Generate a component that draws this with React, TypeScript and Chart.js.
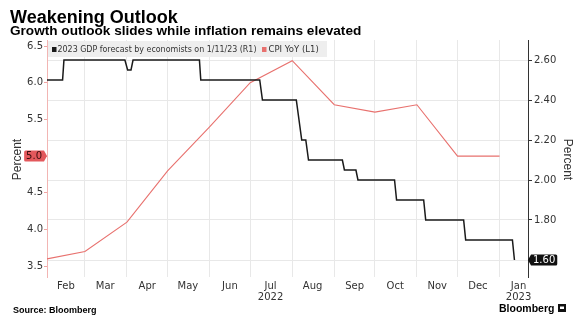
import React, { useEffect, useRef } from 'react';
import { Chart, registerables } from 'chart.js';
Chart.register(...registerables);

const TITLE = 'Weakening Outlook';
const SUBTITLE = 'Growth outlook slides while inflation remains elevated';
const SOURCE = 'Source: Bloomberg';
const BRAND = 'Bloomberg';
const GDP_LABEL = '2023 GDP forecast by economists on 1/11/23 (R1)';
const CPI_LABEL = 'CPI YoY (L1)';
const AXIS_TITLE = 'Percent';

// x values: day index within 2022 (0 = Jan 1, 2022)
const GDP_DAYS = [30, 41.5, 42.5, 87.5, 89.5, 92, 93.5, 142.5, 143.5, 187, 189, 214, 218, 221, 223, 248, 249.5, 258, 259.5, 286.5, 288, 308, 309.5, 337.5, 339, 373.5, 375];
const GDP_VALUES = [2.5, 2.5, 2.6, 2.6, 2.55, 2.55, 2.6, 2.6, 2.5, 2.5, 2.4, 2.4, 2.2, 2.2, 2.1, 2.1, 2.05, 2.05, 2.0, 2.0, 1.9, 1.9, 1.8, 1.8, 1.7, 1.7, 1.6];

const CPI_DAYS = [30, 58, 89, 119, 150, 180, 211, 242, 272, 303, 333, 364];
const CPI_VALUES = [3.6, 3.7, 4.1, 4.8, 5.4, 6.0, 6.3, 5.7, 5.6, 5.7, 5.0, 5.0];

const MONTH_END_DAYS = [30, 58, 89, 119, 150, 180, 211, 242, 272, 303, 333, 364];
const MONTH_LABEL_DAYS = [44, 73, 104, 134, 165, 195, 226, 257, 287, 318, 348, 378];
const MONTH_LABELS: string[][] = [
  ['Feb'], ['Mar'], ['Apr'], ['May'], ['Jun'], ['Jul', '2022'],
  ['Aug'], ['Sep'], ['Oct'], ['Nov'], ['Dec'], ['Jan', '2023'],
];
const X_MIN = 30;
const X_MAX = 385;

const LEFT_TICKS = [3.5, 4.0, 4.5, 5.0, 5.5, 6.0, 6.5];
const RIGHT_TICKS = [1.6, 1.8, 2.0, 2.2, 2.4, 2.6];
const LEFT_MIN = 3.353;
const LEFT_MAX = 6.582;
const RIGHT_MIN = 1.515;
const RIGHT_MAX = 2.7;

const RED = '#e8716e';
const BLACK = '#1a1a1a';
const GRID = '#e8e8e8';
const TEXT = '#333333';

const SANS = '"DejaVu Sans", sans-serif';
const BOLD = '"Liberation Sans", Arial, sans-serif';

function tag(ctx: CanvasRenderingContext2D, text: string, tipX: number, y: number, dir: 'left' | 'right', fill: string, color: string) {
  ctx.save();
  ctx.font = `10px ${SANS}`;
  const w = ctx.measureText(text).width + 4;
  const h = 11;
  ctx.fillStyle = fill;
  ctx.beginPath();
  if (dir === 'right') {
    const bx1 = tipX - 3;
    const bx0 = bx1 - w;
    ctx.moveTo(bx0 + 1.5, y - h / 2);
    ctx.lineTo(bx1, y - h / 2);
    ctx.lineTo(tipX, y);
    ctx.lineTo(bx1, y + h / 2);
    ctx.lineTo(bx0 + 1.5, y + h / 2);
    ctx.quadraticCurveTo(bx0, y + h / 2, bx0, y + h / 2 - 1.5);
    ctx.lineTo(bx0, y - h / 2 + 1.5);
    ctx.quadraticCurveTo(bx0, y - h / 2, bx0 + 1.5, y - h / 2);
    ctx.fill();
    ctx.fillStyle = color;
    ctx.textAlign = 'center';
    ctx.textBaseline = 'middle';
    ctx.fillText(text, (bx0 + bx1) / 2, y + 0.5);
  } else {
    const bx0 = tipX + 3;
    const bx1 = bx0 + w;
    ctx.moveTo(bx0, y - h / 2);
    ctx.lineTo(bx1 - 1.5, y - h / 2);
    ctx.quadraticCurveTo(bx1, y - h / 2, bx1, y - h / 2 + 1.5);
    ctx.lineTo(bx1, y + h / 2 - 1.5);
    ctx.quadraticCurveTo(bx1, y + h / 2, bx1 - 1.5, y + h / 2);
    ctx.lineTo(bx0, y + h / 2);
    ctx.lineTo(tipX, y);
    ctx.closePath();
    ctx.fill();
    ctx.fillStyle = color;
    ctx.textAlign = 'center';
    ctx.textBaseline = 'middle';
    ctx.fillText(text, (bx0 + bx1) / 2, y + 0.5);
  }
  ctx.restore();
}

const decorPlugin = {
  id: 'decor',
  beforeDraw(chart: any) {
    const ctx = chart.ctx as CanvasRenderingContext2D;
    ctx.save();
    ctx.fillStyle = '#ffffff';
    ctx.fillRect(0, 0, chart.width, chart.height);
    ctx.restore();
  },
  afterDraw(chart: any) {
    const ctx = chart.ctx as CanvasRenderingContext2D;
    const area = chart.chartArea;
    const yL = chart.scales.yL;
    const yR = chart.scales.yR;

    // Title and subtitle
    ctx.save();
    ctx.fillStyle = '#000';
    ctx.textAlign = 'left';
    ctx.textBaseline = 'alphabetic';
    ctx.font = `bold 18px ${BOLD}`;
    ctx.fillText(TITLE, 10, 22.5);
    ctx.font = `bold 13.6px ${BOLD}`;
    ctx.fillText(SUBTITLE, 10, 34.5);
    ctx.restore();

    // Legend box
    ctx.save();
    ctx.fillStyle = '#eeeeee';
    ctx.fillRect(area.left + 1, area.top + 1, 279, 16);
    ctx.font = `8.5px ${SANS}`;
    ctx.textBaseline = 'middle';
    ctx.textAlign = 'left';
    const ly = area.top + 9.5;
    ctx.fillStyle = BLACK;
    ctx.fillRect(area.left + 5, ly - 2.5, 4.5, 5);
    ctx.fillStyle = TEXT;
    ctx.fillText(GDP_LABEL, area.left + 10.5, ly, 199);
    const x2 = area.left + 215;
    ctx.fillStyle = RED;
    ctx.fillRect(x2, ly - 2.5, 4.5, 5);
    ctx.fillStyle = TEXT;
    ctx.fillText(CPI_LABEL, x2 + 6.5, ly, 52);
    ctx.restore();

    // Axis titles
    ctx.save();
    ctx.fillStyle = TEXT;
    ctx.font = `12px ${BOLD}`;
    ctx.textAlign = 'center';
    ctx.textBaseline = 'middle';
    const cy = (area.top + area.bottom) / 2 + 1;
    ctx.translate(18, cy);
    ctx.rotate(-Math.PI / 2);
    ctx.fillText(AXIS_TITLE, 0, 0);
    ctx.restore();
    ctx.save();
    ctx.fillStyle = TEXT;
    ctx.font = `12px ${BOLD}`;
    ctx.textAlign = 'center';
    ctx.textBaseline = 'middle';
    ctx.translate(567, cy);
    ctx.rotate(Math.PI / 2);
    ctx.fillText(AXIS_TITLE, 0, 0);
    ctx.restore();

    // Last value tags
    const lastCpi = CPI_VALUES[CPI_VALUES.length - 1];
    tag(ctx, lastCpi.toFixed(1), area.left, yL.getPixelForValue(lastCpi), 'right', '#e3585c', '#3a0d0d');
    const lastGdp = GDP_VALUES[GDP_VALUES.length - 1];
    tag(ctx, lastGdp.toFixed(2), area.right, yR.getPixelForValue(lastGdp), 'left', '#111111', '#ffffff');

    // Footer
    ctx.save();
    ctx.fillStyle = '#000';
    ctx.textAlign = 'left';
    ctx.textBaseline = 'alphabetic';
    ctx.font = `bold 9px ${BOLD}`;
    ctx.fillText(SOURCE, 13, 312.5);
    ctx.font = `bold 10.5px ${BOLD}`;
    ctx.fillText(BRAND, 499, 312);
    ctx.fillStyle = '#111';
    ctx.fillRect(558, 304, 8, 8);
    ctx.fillStyle = '#fff';
    ctx.fillRect(560, 306.5, 4, 2.5);
    ctx.restore();
  },
};

export default function App() {
  const ref = useRef<HTMLCanvasElement | null>(null);
  useEffect(() => {
    if (!ref.current) return;
    const chart = new Chart(ref.current, {
      type: 'line',
      data: {
        datasets: [
          {
            label: GDP_LABEL,
            data: GDP_DAYS.map((d, i) => ({ x: d, y: GDP_VALUES[i] })),
            borderColor: BLACK,
            borderWidth: 1.5,
            pointRadius: 0,
            tension: 0,
            yAxisID: 'yR',
          },
          {
            label: CPI_LABEL,
            data: CPI_DAYS.map((d, i) => ({ x: d, y: CPI_VALUES[i] })),
            borderColor: RED,
            borderWidth: 1.1,
            pointRadius: 0,
            tension: 0,
            yAxisID: 'yL',
          },
        ],
      },
      options: {
        responsive: false,
        animation: false,
        devicePixelRatio: 1,
        layout: { padding: { top: 40, left: 0, right: 0, bottom: 0 } },
        plugins: { legend: { display: false }, tooltip: { enabled: false }, title: { display: false } },
        scales: {
          x: {
            type: 'linear',
            min: X_MIN,
            max: X_MAX,
            afterBuildTicks: (s: any) => {
              s.ticks = [...MONTH_END_DAYS, ...MONTH_LABEL_DAYS].map((v) => ({ value: v }));
            },
            afterFit: (s: any) => { s.height = 49; },
            border: { display: false },
            grid: {
              drawTicks: false,
              lineWidth: 1,
              color: (c: any) => (c.tick && MONTH_END_DAYS.includes(c.tick.value) ? GRID : 'rgba(0,0,0,0)'),
            },
            ticks: {
              autoSkip: false,
              maxRotation: 0,
              minRotation: 0,
              padding: 4,
              color: TEXT,
              font: { family: SANS, size: 10, lineHeight: 1.1 },
              callback: (v: any) => {
                const i = MONTH_LABEL_DAYS.indexOf(v);
                return i >= 0 ? MONTH_LABELS[i] : '';
              },
            },
          },
          yL: {
            type: 'linear',
            position: 'left',
            min: LEFT_MIN,
            max: LEFT_MAX,
            afterBuildTicks: (s: any) => { s.ticks = LEFT_TICKS.map((v) => ({ value: v })); },
            afterFit: (s: any) => { s.width = 47; },
            border: { display: true, color: '#f2b5b3', width: 1 },
            grid: { drawOnChartArea: false, drawTicks: true, tickLength: 3, tickColor: '#f0a5a3' },
            ticks: {
              padding: 1,
              color: TEXT,
              font: { family: SANS, size: 10 },
              callback: (v: any) => Number(v).toFixed(1),
            },
          },
          yR: {
            type: 'linear',
            position: 'right',
            min: RIGHT_MIN,
            max: RIGHT_MAX,
            afterBuildTicks: (s: any) => { s.ticks = RIGHT_TICKS.map((v) => ({ value: v })); },
            afterFit: (s: any) => { s.width = 50; },
            border: { display: true, color: '#333333', width: 1 },
            grid: { drawOnChartArea: true, color: GRID, drawTicks: true, tickLength: 4, tickColor: '#333333' },
            ticks: {
              padding: 2,
              color: TEXT,
              font: { family: SANS, size: 10 },
              callback: (v: any) => Number(v).toFixed(2),
            },
          },
        },
      },
      plugins: [decorPlugin],
    } as any);
    return () => chart.destroy();
  }, []);
  return (
    <div style={{ position: 'fixed', left: 0, top: 0, width: 578, height: 326, background: '#fff' }}>
      <canvas ref={ref} width={578} height={326} style={{ width: 578, height: 326, display: 'block' }} />
    </div>
  );
}
